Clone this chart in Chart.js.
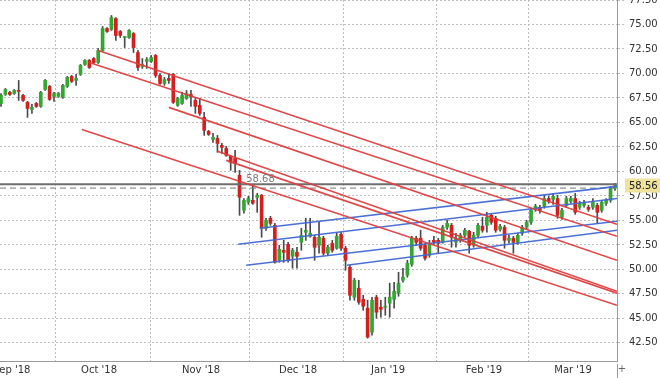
<!DOCTYPE html>
<html><head><meta charset="utf-8">
<script src="https://cdn.jsdelivr.net/npm/chart.js@4"></script>
<style>html,body{margin:0;padding:0;background:#fff;overflow:hidden}</style>
</head><body>
<div style="width:660px;height:378px;position:relative"><canvas id="c" width="660" height="378"></canvas></div>
<script>
// Daily candles, late Aug 2018 – mid Mar 2019 (index = trading-day position)
const openP = [66.94,67.86,68.07,67.96,68.27,67.76,67.05,66.33,66.94,66.64,68.37,68.68,67.66,67.66,67.56,68.68,69.70,69.29,69.90,70.92,71.33,71.53,71.12,72.35,74.59,74.49,75.61,74.29,73.67,73.67,74.08,72.14,70.72,71.23,71.23,71.84,69.80,68.98,69.49,69.90,66.74,66.94,67.45,67.86,67.25,66.74,65.52,64.09,63.27,63.37,62.66,62.35,61.54,61.33,59.60,56.03,56.85,57.05,57.36,57.56,54.20,55.22,54.50,50.93,51.95,52.56,51.34,51.75,52.77,53.79,53.38,53.28,52.46,53.18,51.65,52.67,52.16,53.58,52.16,50.22,47.16,48.08,46.95,46.04,43.59,47.16,46.14,46.14,46.55,46.95,47.57,48.89,49.40,50.52,53.18,53.18,52.46,51.44,52.97,52.97,52.77,54.30,54.50,52.77,52.97,53.48,53.89,52.46,53.48,54.40,54.50,55.52,55.22,54.09,54.30,52.97,53.18,52.77,53.69,54.30,54.81,56.13,56.34,56.44,57.24,57.15,57.24,55.32,56.54,56.95,57.24,56.34,56.54,56.34,56.34,56.54,56.03,56.75,57.05,58.27];
const highP = [67.96,68.47,68.17,68.37,69.29,67.86,67.15,66.84,67.05,68.17,69.39,68.78,68.07,68.07,68.88,69.70,69.80,69.90,70.92,71.43,71.43,71.63,72.55,74.80,74.69,75.92,75.71,74.39,73.80,74.49,74.18,72.35,71.53,71.63,71.84,71.94,70.00,69.60,70.00,70.00,67.56,68.07,68.27,68.27,67.45,67.45,66.03,64.19,63.88,63.68,62.86,62.56,61.64,62.15,60.11,57.24,57.46,58.58,57.76,57.66,55.22,55.42,54.70,52.46,52.97,52.77,52.16,52.26,54.20,55.22,55.22,53.48,54.81,53.38,52.46,52.97,53.69,53.79,52.36,50.42,49.10,48.89,47.36,46.85,47.16,47.36,46.85,47.16,48.59,48.69,49.71,50.12,50.93,53.38,53.38,53.99,52.67,52.97,53.38,53.18,54.50,55.01,54.70,53.69,53.69,54.20,53.99,53.79,54.70,55.32,55.83,55.73,55.42,54.60,54.50,53.48,53.38,53.69,54.50,55.01,56.24,56.64,56.54,57.56,57.46,57.76,57.56,56.24,57.46,57.46,57.76,56.95,57.05,56.54,57.24,56.75,57.05,57.24,58.48,58.78];
const lowP = [66.64,67.76,67.76,67.86,67.25,67.15,65.52,65.92,66.54,66.54,68.27,67.25,67.15,67.56,67.45,68.57,69.08,68.78,69.80,70.82,70.51,71.02,71.02,72.25,74.18,74.39,73.37,73.67,72.65,73.57,72.14,70.31,70.51,70.51,71.12,69.60,68.88,68.78,68.98,66.94,66.64,66.84,67.35,66.64,65.92,65.72,63.68,63.68,62.97,61.95,61.84,61.54,60.11,59.91,55.52,55.73,56.64,56.64,55.83,53.28,53.99,54.50,50.63,50.73,50.73,50.73,50.12,50.12,51.95,52.97,53.28,50.93,51.65,51.44,51.44,51.75,52.05,51.95,49.91,46.85,46.85,46.44,45.83,42.98,43.28,45.02,45.12,45.32,45.12,46.04,47.26,48.69,49.20,50.32,52.46,51.95,50.93,51.24,52.56,51.65,52.67,54.09,52.26,52.26,52.77,53.28,51.65,52.26,53.28,53.79,53.79,54.60,53.79,53.89,52.16,52.67,51.65,52.56,53.48,54.09,54.60,55.93,55.73,56.24,56.75,56.64,55.22,55.11,56.34,56.75,55.62,56.13,56.34,55.93,56.13,54.70,55.83,56.54,56.85,58.07];
const closeP = [67.76,68.37,67.86,68.27,68.17,67.25,66.43,66.54,66.64,68.07,69.29,67.35,67.96,67.96,68.78,69.60,69.19,69.49,70.82,71.33,70.61,71.12,72.35,74.59,74.29,75.71,73.88,73.88,73.75,74.39,72.65,70.61,70.92,71.43,71.63,69.80,68.98,69.39,69.29,67.05,67.45,67.76,67.96,67.66,66.64,65.92,64.19,63.78,63.48,62.86,62.46,61.64,60.93,60.82,57.36,57.05,57.24,56.75,57.56,54.20,55.01,54.70,50.73,52.05,51.75,50.93,51.95,51.34,53.48,53.99,53.69,52.26,53.28,51.65,52.26,51.95,53.38,52.16,50.93,47.36,48.89,46.65,46.24,43.08,46.85,45.63,45.93,46.24,47.16,47.77,48.59,49.20,50.63,53.18,52.77,52.16,51.14,52.67,52.77,52.67,54.30,54.70,53.28,53.18,53.48,53.99,52.46,53.48,54.50,53.99,55.32,54.81,53.99,54.40,52.97,53.18,52.77,53.48,54.30,54.81,56.03,56.44,56.03,57.24,56.95,57.46,55.52,56.03,57.24,57.24,55.83,56.75,56.85,56.13,56.85,55.83,56.85,57.05,58.27,58.56];

// Axis ticks
const monthLabels = ["Sep '18","Oct '18","Nov '18","Dec '18","Jan '19","Feb '19","Mar '19"];
const monthPos = [2.42, 22.19, 45.28, 67.24, 87.62, 109.35, 129.5];
const yTicks = [42.5,45,47.5,50,52.5,55,57.5,60,62.5,65,67.5,70,72.5,75,77.5];

// Trend lines: [startIndex, startPrice, endIndex, endPrice]
const redLines = [
  [22, 72.35, 139.46, 54.60],
  [20, 71.12, 139.46, 53.38],
  [38, 66.54, 139.46, 50.93],
  [49, 62.05, 139.46, 47.77],
  [51, 61.13, 139.46, 47.57],
  [18.3, 64.29, 139.46, 46.34]
];
const blueLines = [
  [58.6, 54.20, 139.46, 58.48],
  [53.7, 52.56, 139.46, 57.24],
  [55.5, 50.42, 139.46, 54.91],
  [78.3, 50.42, 139.46, 53.99]
];
const levelPrice = 58.68;   // solid reference level
const dashedPrice = 58.30;  // dashed level
const lastPrice = 58.56;

const X_MIN = -0.23, X_MAX = 139.46;

const idx = openP.map((_, i) => i);
const up = idx.map(i => closeP[i] >= openP[i]);
const wickData = idx.map(i => ({x: i, y: [lowP[i], highP[i]]}));
const bodyData = idx.map(i => ({x: i, y: [Math.min(openP[i], closeP[i]), Math.max(openP[i], closeP[i])]}));

const lineDs = (seg, color) => ({
  type: 'line',
  data: [{x: seg[0], y: seg[1]}, {x: seg[2], y: seg[3]}],
  borderColor: color, borderWidth: 1.6, pointRadius: 0, fill: false, tension: 0, order: 1
});

const datasets = [
  {type: 'bar', data: wickData, backgroundColor: '#4a4a4a', barThickness: 1, grouped: false, order: 4},
  {type: 'bar', data: bodyData, backgroundColor: up.map(u => u ? '#33a633' : '#d21f1f'),
   barThickness: 3, minBarLength: 1, grouped: false, order: 3},
  {type: 'line', data: [{x: X_MIN, y: levelPrice}, {x: X_MAX, y: levelPrice}], borderColor: '#6e6e6e', borderWidth: 2, pointRadius: 0, order: 2},
  {type: 'line', data: [{x: X_MIN, y: dashedPrice}, {x: X_MAX, y: dashedPrice}], borderColor: '#777', borderWidth: 1, borderDash: [6, 4], pointRadius: 0, order: 2},
  ...redLines.map(s => lineDs(s, 'rgba(222,62,62,0.95)')),
  ...blueLines.map(s => lineDs(s, 'rgba(66,104,214,0.95)'))
];

const overlay = {
  id: 'overlay',
  afterDraw(chart) {
    const ctx = chart.ctx, xs = chart.scales.x, ys = chart.scales.y;
    ctx.save();
    // level label
    ctx.font = '10px "DejaVu Sans"';
    ctx.fillStyle = '#7a7a7a';
    ctx.textAlign = 'left';
    ctx.textBaseline = 'middle';
    ctx.fillText(levelPrice.toFixed(2), xs.getPixelForValue(55.5), ys.getPixelForValue(levelPrice) - 5);
    // last price box
    const py = ys.getPixelForValue(lastPrice);
    ctx.fillStyle = '#efe39c';
    ctx.fillRect(625, py - 7, 35, 14);
    ctx.fillStyle = '#222';
    ctx.fillText(lastPrice.toFixed(2), 629, py + 0.5);
    // corner marker
    ctx.strokeStyle = '#999';
    ctx.lineWidth = 1;
    ctx.beginPath(); ctx.moveTo(617.5, 364); ctx.lineTo(617.5, 378); ctx.stroke();
    ctx.fillStyle = '#666';
    ctx.textAlign = 'center';
    ctx.fillText('+', 622, 369);
    ctx.restore();
  }
};

new Chart(document.getElementById('c'), {
  type: 'bar',
  data: {datasets},
  plugins: [overlay],
  options: {
    responsive: false,
    animation: false,
    devicePixelRatio: 1,
    layout: {padding: 0},
    plugins: {legend: {display: false}, tooltip: {enabled: false}},
    scales: {
      x: {
        type: 'linear', min: X_MIN, max: X_MAX, offset: false, bounds: 'data',
        afterBuildTicks: s => { s.ticks = monthPos.map(v => ({value: v})); },
        afterFit: s => { s.height = 17; s.paddingLeft = 0; s.paddingRight = 0; },
        grid: {color: '#bdbdbd', drawTicks: false, lineWidth: 1},
        border: {color: '#9a9a9a', width: 1, dash: [2, 2]},
        ticks: {
          autoSkip: false, maxRotation: 0, padding: 3, color: '#333',
          font: {family: 'DejaVu Sans', size: 10},
          callback: (v, i) => monthLabels[i]
        }
      },
      y: {
        type: 'linear', position: 'right', min: 40.65, max: 77.5, bounds: 'data',
        afterBuildTicks: s => { s.ticks = yTicks.map(v => ({value: v})); },
        afterFit: s => { s.width = 43; s.paddingTop = 0; s.paddingBottom = 0; },
        grid: {color: '#bdbdbd', tickLength: 8, tickColor: '#bdbdbd', tickBorderDash: [2, 2], lineWidth: 1},
        border: {color: '#9a9a9a', width: 1, dash: [2, 2]},
        ticks: {
          padding: 4, color: '#333',
          font: {family: 'DejaVu Sans', size: 10},
          callback: v => Number(v).toFixed(2)
        }
      }
    }
  }
});
</script>
</body></html>
